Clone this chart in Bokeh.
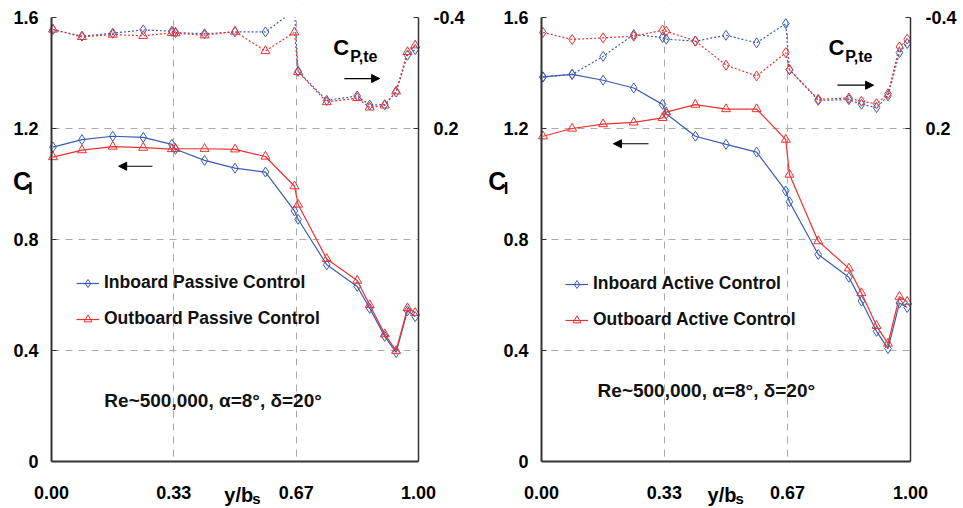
from bokeh.plotting import figure
from bokeh.models import (Range1d, LinearAxis, FixedTicker, Grid, Label, Arrow,
                          NormalHead, NumeralTickFormatter, BoxAnnotation)
from bokeh.layouts import row
from bokeh.embed import file_html
from bokeh.resources import INLINE

# ---------------- data ----------------
stations = [0.004, 0.083, 0.167, 0.25, 0.328, 0.338, 0.417, 0.5, 0.583, 0.662,
            0.672, 0.75, 0.833, 0.867, 0.908, 0.939, 0.970, 0.991]

# passive control (left panel)
cl_in_passive = [1.133, 1.160, 1.172, 1.168, 1.143, 1.125, 1.085, 1.057, 1.043, 0.903,
                 0.873, 0.709, 0.631, 0.552, 0.451, 0.393, 0.543, 0.522]
cl_out_passive = [1.097, 1.122, 1.135, 1.131, 1.126, 1.127, 1.127, 1.125, 1.099, 0.992,
                  0.926, 0.730, 0.652, 0.564, 0.459, 0.399, 0.553, 0.536]
cp_in_passive = [-0.335, -0.299, -0.315, -0.333, -0.326, -0.319, -0.312, -0.322, -0.322, -0.44,
                 -0.109, 0.048, 0.024, 0.073, 0.071, 0.003, -0.196, -0.227]
cp_out_passive = [-0.335, -0.295, -0.308, -0.301, -0.317, -0.315, -0.304, -0.324, -0.219, -0.320,
                  -0.106, 0.057, 0.035, 0.086, 0.075, -0.001, -0.214, -0.250]

# active control (right panel)
cl_in_active = [1.386, 1.395, 1.374, 1.346, 1.287, 1.253, 1.172, 1.143, 1.115, 0.975,
                0.936, 0.746, 0.664, 0.578, 0.469, 0.407, 0.571, 0.555]
cl_out_active = [1.172, 1.200, 1.216, 1.222, 1.238, 1.259, 1.286, 1.270, 1.270, 1.160,
                 1.034, 0.794, 0.696, 0.607, 0.489, 0.425, 0.594, 0.576]
cp_in_active = [-0.078, -0.093, -0.190, -0.308, -0.292, -0.283, -0.272, -0.304, -0.263, -0.367,
                -0.118, 0.048, 0.044, 0.069, 0.087, 0.024, -0.210, -0.259]
cp_out_active = [-0.319, -0.281, -0.290, -0.299, -0.331, -0.326, -0.273, -0.142, -0.084, -0.210,
                 -0.118, 0.042, 0.035, 0.053, 0.066, 0.012, -0.241, -0.283]

x_ticks = [0.0, 0.333, 0.667, 1.0]
cl_ticks = [0.0, 0.4, 0.8, 1.2, 1.6]
cl_tick_labels = ["0", "0.4", "0.8", "1.2", "1.6"]
cp_ticks = [-0.4, 0.2]
cp_tick_labels = ["-0.4", "0.2"]
annotation = "Re~500,000, \u03b1=8\u00b0, \u03b4=20\u00b0"

BLUE = "#3a5cb4"
RED = "#ee3030"
FONT = "Liberation Sans"

CL_MAX = 1.6
CP_TOP, CP_PER_CL = -0.4, 1.5   # right axis: Cp = -0.4 + 1.5 * (1.6 - Cl)


def make_panel(width, px_left, px_data, series, legend_names, out_cp_marker,
               lab_pos, legend_loc):
    height, top_px, px_cl = 508, 17, 444
    # frame covers the whole canvas; axes sit at fixed data locations
    x0 = -px_left / px_data
    x1 = 1 + (width - px_left - px_data) / px_data
    per_px = CL_MAX / px_cl
    y0 = -(height - top_px - px_cl) * per_px
    y1 = CL_MAX + top_px * per_px
    p = figure(width=width, height=height,
               x_range=Range1d(x0, x1), y_range=Range1d(y0, y1),
               x_axis_type=None, y_axis_type=None,
               output_backend="svg", toolbar_location=None,
               min_border_left=0, min_border_right=0,
               min_border_top=0, min_border_bottom=0)
    p.extra_y_ranges = {"cp": Range1d(start=CP_TOP + CP_PER_CL * (CL_MAX - y0),
                                      end=CP_TOP + CP_PER_CL * (CL_MAX - y1))}
    p.outline_line_color = None
    p.background_fill_color = "white"
    p.border_fill_color = "white"

    # grids
    p.add_layout(Grid(dimension=0, ticker=FixedTicker(ticks=[0.333, 0.667]),
                      grid_line_color="#aaaaaa", grid_line_dash="7 6", grid_line_width=1))
    p.add_layout(Grid(dimension=1, ticker=FixedTicker(ticks=[0.4, 0.8, 1.2]),
                      grid_line_color="#aaaaaa", grid_line_dash="7 6", grid_line_width=1))
    # blank out grid outside the plotting box
    for kw in (dict(right=0), dict(left=1), dict(top=0)):
        p.add_layout(BoxAnnotation(fill_color="white", fill_alpha=1, line_color=None,
                                   level="underlay", **kw))

    common = dict(major_label_text_font=FONT, major_label_text_font_style="bold",
                  major_label_text_font_size="18px", major_label_text_color="black",
                  axis_line_color="#333333", minor_tick_line_color=None)
    xax = LinearAxis(ticker=FixedTicker(ticks=x_ticks), fixed_location=0, bounds=(0, 1),
                     formatter=NumeralTickFormatter(format="0.00"),
                     major_tick_line_color=None, axis_line_width=2,
                     major_label_standoff=18, **common)
    p.add_layout(xax, "below")
    yax = LinearAxis(ticker=FixedTicker(ticks=cl_ticks), fixed_location=0, bounds=(0, CL_MAX),
                     major_label_overrides=dict(zip(cl_ticks, cl_tick_labels)),
                     major_tick_in=5, major_tick_out=0, major_tick_line_color="#333333",
                     axis_line_width=2, major_label_standoff=13, **common)
    p.add_layout(yax, "left")
    rax = LinearAxis(y_range_name="cp", ticker=FixedTicker(ticks=cp_ticks),
                     fixed_location=1, bounds=(CP_TOP, CP_TOP + CP_PER_CL * CL_MAX),
                     major_label_overrides=dict(zip(cp_ticks, cp_tick_labels)),
                     major_tick_in=5, major_tick_out=0, major_tick_line_color="#333333",
                     axis_line_width=1.5, major_label_standoff=15, **common)
    p.add_layout(rax, "right")

    cl_in, cl_out, cp_in, cp_out = series
    # Cp (dotted, right axis)
    p.line(stations, cp_in, y_range_name="cp", line_color=BLUE, line_width=1.2,
           line_dash="2 2")
    p.scatter(stations, cp_in, y_range_name="cp", marker="diamond", size=10,
              line_color=BLUE, fill_color=None, line_width=1)
    p.line(stations, cp_out, y_range_name="cp", line_color=RED, line_width=1.2,
           line_dash="2 2")
    p.scatter(stations, cp_out, y_range_name="cp", marker=out_cp_marker,
              size=10 if out_cp_marker == "diamond" else 9,
              line_color=RED, fill_color=None, line_width=1)
    # Cl (solid, left axis)
    p.line(stations, cl_in, line_color=BLUE, line_width=1.2, legend_label=legend_names[0])
    p.scatter(stations, cl_in, marker="diamond", size=10, line_color=BLUE,
              fill_color=None, line_width=1, legend_label=legend_names[0])
    p.line(stations, cl_out, line_color=RED, line_width=1.2, legend_label=legend_names[1])
    p.scatter(stations, cl_out, marker="triangle", size=9, line_color=RED,
              fill_color=None, line_width=1, legend_label=legend_names[1])

    # white mask above the top of the plotting box (data leaving the box is hidden)
    p.quad(left=x0, right=x1, bottom=CL_MAX, top=y1, fill_color="white",
           line_color=None)

    lg = p.legend[0]
    lg.location = legend_loc
    lg.border_line_color = None
    lg.background_fill_alpha = 0
    lg.label_text_font = FONT
    lg.label_text_font_style = "bold"
    lg.label_text_font_size = "17.5px"
    lg.label_text_color = "#111111"
    lg.glyph_width = 23
    lg.glyph_height = 20
    lg.label_height = 20
    lg.spacing = 15
    lg.padding = 0
    lg.margin = 0
    lg.label_standoff = 5

    lp = lab_pos

    def lab(key, text, size, baseline="middle", color="black"):
        p.add_layout(Label(x=lp[key][0], y=lp[key][1], text=text, text_font=FONT,
                           text_font_style="bold", text_font_size=size,
                           text_baseline=baseline, text_align="left", text_color=color))

    lab("cl", "C", "25px")
    lab("cl_sub", "l", "17px")
    lab("yb", "y/b", "20px", baseline="alphabetic")
    lab("yb_sub", "s", "15px", baseline="alphabetic")
    lab("cp", "C", "22px")
    lab("cp_sub", "P,te", "16px")
    lab("re", annotation, "19px", color="#111111")

    # arrows
    for key in ("arrow_l", "arrow_r"):
        a0, a1, ay = lp[key]
        p.add_layout(Arrow(end=NormalHead(size=8, fill_color="black", line_color="black"),
                           x_start=a0, y_start=ay, x_end=a1, y_end=ay,
                           line_color="black", line_width=1.2))
    return p


left_pos = dict(cl=(-0.105, 1.012), cl_sub=(-0.064, 0.985),
                cp=(0.768, 1.493), cp_sub=(0.814, 1.461),
                yb=(0.471, -0.121), yb_sub=(0.547, -0.133),
                re=(0.144, 0.221),
                arrow_l=(0.275, 0.183, 1.064), arrow_r=(0.798, 0.894, 1.380))
right_pos = dict(cl=(-0.144, 1.012), cl_sub=(-0.102, 0.985),
                 cp=(0.778, 1.493), cp_sub=(0.823, 1.461),
                 yb=(0.450, -0.121), yb_sub=(0.526, -0.133),
                 re=(0.152, 0.257),
                 arrow_l=(0.290, 0.195, 1.145), arrow_r=(0.802, 0.900, 1.356))

p1 = make_panel(486, 51, 367,
                (cl_in_passive, cl_out_passive, cp_in_passive, cp_out_passive),
                ("Inboard Passive Control", "Outboard Passive Control"), "triangle",
                left_pos, (76, 179))
p2 = make_panel(476, 55, 369,
                (cl_in_active, cl_out_active, cp_in_active, cp_out_active),
                ("Inboard Active Control", "Outboard Active Control"), "diamond",
                right_pos, (79, 178))

layout = row(p1, p2)
open("out.html", "w").write(file_html(layout, INLINE))
